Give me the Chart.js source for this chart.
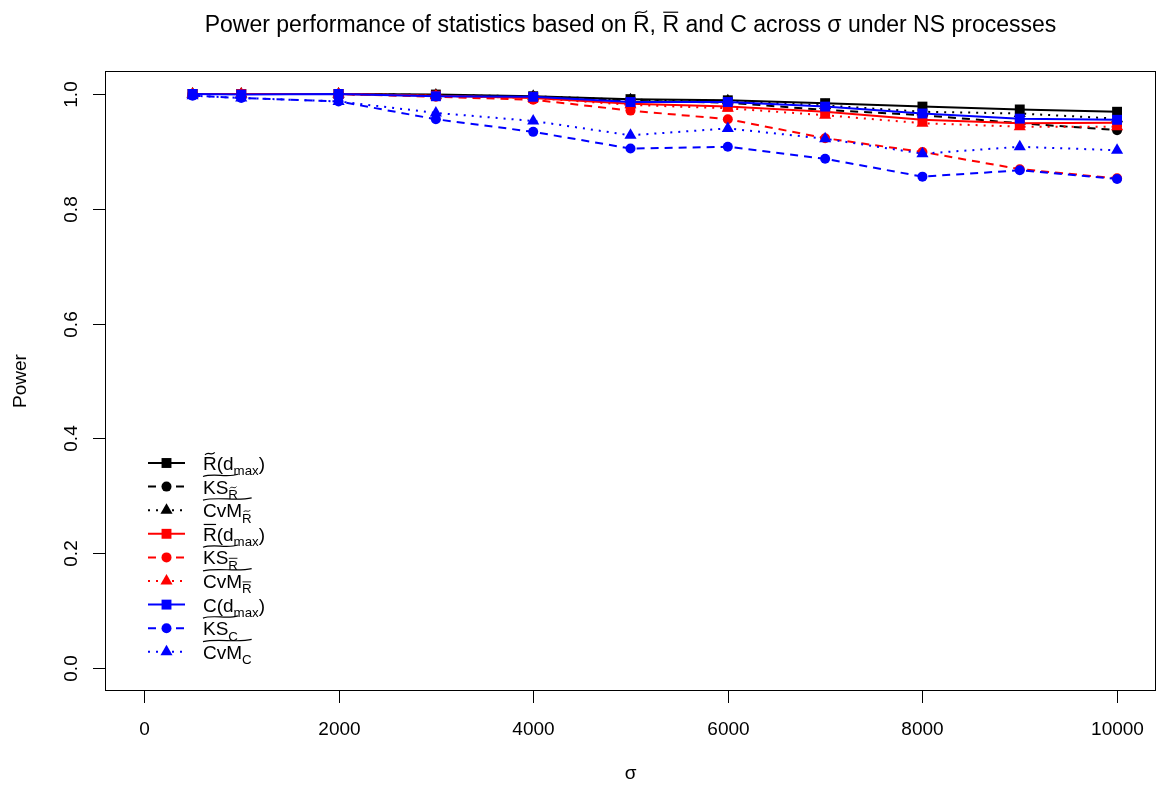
<!DOCTYPE html>
<html lang="en">
<head>
    <meta charset="UTF-8">
    <title>Power performance across sigma</title>
    <script src="https://cdn.jsdelivr.net/npm/chart.js"></script>
    <style>
        body { margin: 0; background: #fff; }
        #powerChart { display: block; }
    </style>
</head>
<body>
    <canvas id="powerChart" width="1156" height="788"></canvas>

    <script>
// ---- data ----
const sigma = [500, 1000, 2000, 3000, 4000, 5000, 6000, 7000, 8000, 9000, 10000];

const rTildeDmax = [1.000, 1.000, 1.000, 0.999, 0.996, 0.991, 0.989, 0.984, 0.978, 0.973, 0.969];
const ksRTilde   = [1.000, 1.000, 1.000, 0.998, 0.995, 0.988, 0.985, 0.972, 0.963, 0.949, 0.937];
const cvmRTilde  = [1.000, 1.000, 1.000, 0.998, 0.996, 0.990, 0.988, 0.980, 0.969, 0.966, 0.957];
const rBarDmax   = [1.000, 1.000, 1.000, 0.997, 0.993, 0.983, 0.978, 0.969, 0.955, 0.949, 0.950];
const ksRBar     = [1.000, 1.000, 1.000, 0.995, 0.990, 0.971, 0.956, 0.923, 0.899, 0.869, 0.853];
const cvmRBar    = [1.000, 1.000, 1.000, 0.997, 0.993, 0.981, 0.975, 0.963, 0.949, 0.943, 0.943];
const cDmax      = [1.000, 0.999, 1.000, 0.996, 0.995, 0.986, 0.986, 0.978, 0.966, 0.957, 0.955];
const ksC        = [0.997, 0.993, 0.987, 0.956, 0.934, 0.905, 0.908, 0.887, 0.856, 0.867, 0.852];
const cvmC       = [0.997, 0.993, 0.987, 0.967, 0.953, 0.928, 0.940, 0.922, 0.896, 0.908, 0.902];

const seriesNames = ['R\u0303(dmax)', 'KS R\u0303', 'CvM R\u0303', 'R\u0305(dmax)', 'KS R\u0305', 'CvM R\u0305', 'C(dmax)', 'KS C', 'CvM C'];
const seriesValues = [rTildeDmax, ksRTilde, cvmRTilde, rBarDmax, ksRBar, cvmRBar, cDmax, ksC, cvmC];

const xTicks = [0, 2000, 4000, 6000, 8000, 10000];
const yTicks = [0, 0.2, 0.4, 0.6, 0.8, 1.0];
const yTickLabels = ['0.0', '0.2', '0.4', '0.6', '0.8', '1.0'];

const xTitle = '\u03c3';
const yTitle = 'Power';

// ---- styles ----
const colors = ['#000000', '#000000', '#000000', '#ff0000', '#ff0000', '#ff0000', '#0000ff', '#0000ff', '#0000ff'];
const dashes = [[], [8, 6], [2, 6], [], [8, 6], [2, 6], [], [8, 6], [2, 6]];
const shapes = ['rect', 'circle', 'triangle', 'rect', 'circle', 'triangle', 'rect', 'circle', 'triangle'];
const radii = [7, 5, 7, 7, 5, 7, 7, 5, 7];
const FONT = '"Liberation Sans", Arial, Helvetica, sans-serif';

// legend rich text: parts with optional subscript / accent, wide = widetilde over whole label
const legendMarkup = [
    { parts: [{ t: 'R', acc: 'tilde' }, { t: '(d' }, { t: 'max', sub: true }, { t: ')' }] },
    { wide: true, parts: [{ t: 'KS' }, { t: 'R', sub: true, acc: 'tilde' }] },
    { wide: true, parts: [{ t: 'CvM' }, { t: 'R', sub: true, acc: 'tilde' }] },
    { parts: [{ t: 'R', acc: 'bar' }, { t: '(d' }, { t: 'max', sub: true }, { t: ')' }] },
    { wide: true, parts: [{ t: 'KS' }, { t: 'R', sub: true, acc: 'bar' }] },
    { wide: true, parts: [{ t: 'CvM' }, { t: 'R', sub: true, acc: 'bar' }] },
    { parts: [{ t: 'C(d' }, { t: 'max', sub: true }, { t: ')' }] },
    { wide: true, parts: [{ t: 'KS' }, { t: 'C', sub: true }] },
    { wide: true, parts: [{ t: 'CvM' }, { t: 'C', sub: true }] }
];

function drawTilde(ctx, x0, x1, y, amp) {
    const w = x1 - x0;
    ctx.beginPath();
    ctx.moveTo(x0, y + amp);
    ctx.bezierCurveTo(x0 + w * 0.3, y - 2.2 * amp, x0 + w * 0.7, y + 2.2 * amp, x1, y - amp);
    ctx.stroke();
}

function drawRich(ctx, x, baseline, spec, size) {
    let cx = x;
    const start = x;
    spec.parts.forEach(function (p) {
        const fs = p.sub ? size * 0.7 : size;
        const by = p.sub ? baseline + size * 0.28 : baseline;
        ctx.font = fs + 'px ' + FONT;
        const w = ctx.measureText(p.t).width;
        ctx.fillText(p.t, cx, by);
        if (p.acc) {
            const top = by - fs * 0.72 - fs * 0.14;
            ctx.lineWidth = p.sub ? 0.9 : 1.2;
            if (p.acc === 'tilde') drawTilde(ctx, cx + w * 0.15, cx + w * 0.85, top, fs * 0.07);
            else { ctx.beginPath(); ctx.moveTo(cx + w * 0.05, top); ctx.lineTo(cx + w * 0.95, top); ctx.stroke(); }
        }
        cx += w;
    });
    if (spec.wide) {
        ctx.lineWidth = 1.2;
        drawTilde(ctx, start, cx, baseline - size * 0.72 - size * 0.24, size * 0.06);
    }
    return cx - start;
}

const rFrame = {
    id: 'rFrame',
    afterDraw(chart) {
        const ctx = chart.ctx;
        const area = chart.chartArea;
        const xs = chart.scales.x, ys = chart.scales.y;
        ctx.save();
        ctx.strokeStyle = '#000';
        ctx.fillStyle = '#000';
        ctx.lineWidth = 1;
        ctx.setLineDash([]);

        // box
        ctx.strokeRect(area.left + 0.5, area.top + 0.5, area.right - area.left - 1, area.bottom - area.top - 1);

        // x axis ticks + labels
        ctx.font = '19px ' + FONT;
        ctx.textAlign = 'center';
        ctx.textBaseline = 'alphabetic';
        xTicks.forEach(function (v) {
            const px = Math.round(xs.getPixelForValue(v)) + 0.5;
            ctx.beginPath();
            ctx.moveTo(px, area.bottom);
            ctx.lineTo(px, area.bottom + 12);
            ctx.stroke();
            ctx.fillText(String(v), px, 735);
        });

        // y axis ticks + rotated labels
        yTicks.forEach(function (v, i) {
            const py = Math.round(ys.getPixelForValue(v)) + 0.5;
            ctx.beginPath();
            ctx.moveTo(area.left - 12, py);
            ctx.lineTo(area.left, py);
            ctx.stroke();
            ctx.save();
            ctx.translate(77, py);
            ctx.rotate(-Math.PI / 2);
            ctx.fillText(yTickLabels[i], 0, 0);
            ctx.restore();
        });

        // axis titles
        ctx.fillText(xTitle, (area.left + area.right) / 2, 779);
        ctx.save();
        ctx.translate(26, (area.top + area.bottom) / 2);
        ctx.rotate(-Math.PI / 2);
        ctx.fillText(yTitle, 0, 0);
        ctx.restore();

        // title, accents drawn by hand
        const tSize = 23;
        const titleSpec = {
            parts: [
                { t: 'Power performance of statistics based on ' },
                { t: 'R', acc: 'tilde' }, { t: ', ' },
                { t: 'R', acc: 'bar' },
                { t: ' and C across \u03c3 under NS processes' }
            ]
        };
        ctx.font = tSize + 'px ' + FONT;
        let tw = 0;
        titleSpec.parts.forEach(function (p) { tw += ctx.measureText(p.t).width; });
        ctx.textAlign = 'left';
        drawRich(ctx, (area.left + area.right) / 2 - tw / 2, 32, titleSpec, tSize);

        // legend
        const rowH = 23.6;
        legendMarkup.forEach(function (spec, i) {
            const cy = 463 + i * rowH;
            ctx.strokeStyle = colors[i];
            ctx.fillStyle = colors[i];
            ctx.lineWidth = 2;
            ctx.setLineDash(dashes[i]);
            ctx.beginPath();
            ctx.moveTo(148, cy);
            ctx.lineTo(185, cy);
            ctx.stroke();
            ctx.setLineDash([]);
            Chart.helpers.drawPoint(ctx, { pointStyle: shapes[i], radius: radii[i], rotation: 0, borderWidth: 0 }, 166.5, cy);
            ctx.fillStyle = '#000';
            ctx.strokeStyle = '#000';
            drawRich(ctx, 203, cy + 7, spec, 19);
        });
        ctx.restore();
    }
};

const datasets = seriesValues.map(function (vals, i) {
    return {
        label: seriesNames[i],
        data: sigma.map(function (s, j) { return { x: s, y: vals[j] }; }),
        borderColor: colors[i],
        backgroundColor: colors[i],
        borderWidth: 2,
        borderDash: dashes[i],
        pointStyle: shapes[i],
        pointRadius: radii[i],
        pointBorderWidth: 0,
        pointBackgroundColor: colors[i],
        tension: 0,
        order: 8 - i
    };
});

new Chart(document.getElementById('powerChart').getContext('2d'), {
    type: 'line',
    data: { datasets: datasets },
    options: {
        responsive: false,
        animation: false,
        devicePixelRatio: 1,
        clip: false,
        layout: { autoPadding: false, padding: { left: 105, right: 0, top: 71, bottom: 97 } },
        scales: {
            x: { type: 'linear', min: -400, max: 10400, display: false },
            y: { type: 'linear', min: -0.04, max: 1.04, display: false }
        },
        plugins: {
            legend: { display: false },
            title: { display: false },
            tooltip: { enabled: false }
        }
    },
    plugins: [rFrame]
});
    </script>
</body>
</html>
